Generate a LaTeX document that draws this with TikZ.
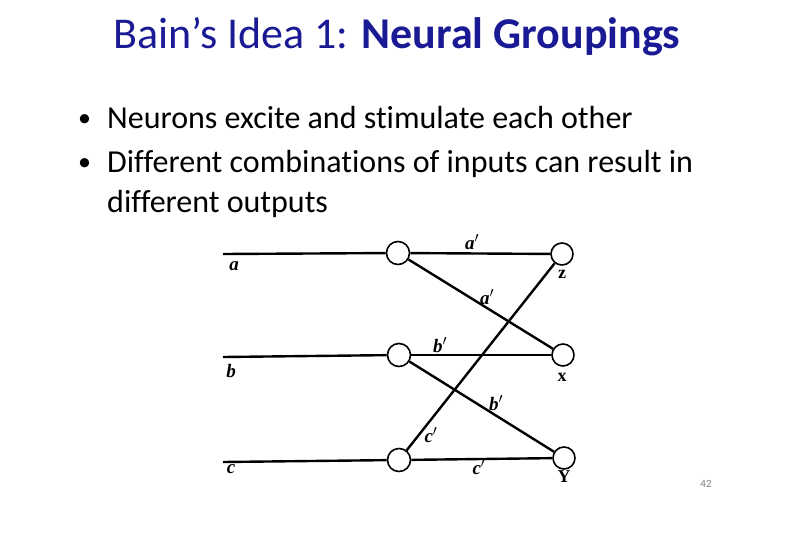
\documentclass[tikz,border=0pt]{standalone}
\usepackage{fontspec}
\setmainfont[Ligatures=NoCommon]{Carlito}
\newfontfamily\oldserif{Liberation Serif}
\definecolor{titleblue}{HTML}{1A1A95}
\begin{document}
\begin{tikzpicture}[x=1pt,y=-1pt,
  neuron/.style={circle,draw,line width=1.6pt,fill=white,minimum size=23pt,inner sep=0pt},
  wire/.style={line width=2.4pt},
  lbl/.style={font=\oldserif\bfseries\itshape\fontsize{19}{19}\selectfont,inner sep=1pt},
  outl/.style={font=\oldserif\bfseries\fontsize{18}{18}\selectfont,inner sep=1pt},
  bullet/.style={anchor=base west,font=\fontsize{32}{36}\selectfont,inner sep=0pt},
  dot/.style={anchor=base west,font=\fontsize{26}{30}\selectfont,inner sep=0pt}]
\useasboundingbox (0,0) rectangle (792,544);
\node[font=\fontsize{44}{48}\selectfont,text=titleblue] (title) at (397,37) {Bain’s Idea 1: \textbf{Neural Groupings}};
\node[dot] (b1dot) at (78,126) {•};
\node[bullet] (b1) at (107,128) {Neurons excite and stimulate each other};
\node[dot] (b2dot) at (78,170) {•};
\node[bullet] (b2) at (107,172) {Different combinations of inputs can result in};
\node[bullet] (b3) at (107,212) {different outputs};
% neurons
\coordinate (ina) at (223,254);
\coordinate (inb) at (223,357);
\coordinate (inc) at (223,462);
\node[neuron] (A) at (398,253) {};
\node[neuron] (B) at (399,355) {};
\node[neuron] (C) at (399,460) {};
\node[neuron,minimum size=22pt] (Z) at (562,254) {};
\node[neuron,minimum size=22pt] (X) at (563,355) {};
\node[neuron,minimum size=22pt] (Y) at (564,458) {};
\draw[wire] (ina) -- (A);
\draw[wire] (inb) -- (B);
\draw[wire] (inc) -- (C);
\draw[wire] (A) -- (Z);
\draw[wire] (A) -- (X);
\draw[wire] (B) -- (X);
\draw[wire] (B) -- (Y);
\draw[wire] (C) -- (Z);
\draw[wire] (C) -- (Y);
% labels
\node[lbl] (la) at (234,266) {a};
\node[lbl] (lb) at (231,371) {b};
\node[lbl] (lc) at (231,469) {c};
\node[lbl] (la1) at (472,242) {a$'$};
\node[lbl] (la2) at (487,297) {a$'$};
\node[lbl] (lb1) at (440,345) {b$'$};
\node[lbl] (lb2) at (496,403) {b$'$};
\node[lbl] (lc1) at (431,435) {c$'$};
\node[lbl] (lc2) at (479,467) {c$'$};
\node[outl] (lz) at (562,274) {z};
\node[outl] (lx) at (562,377) {x};
\node[outl] (ly) at (564,477) {Y};
\node[font=\fontsize{11}{11}\selectfont,text=gray] (pg) at (706,484) {42};
\end{tikzpicture}
\end{document}
